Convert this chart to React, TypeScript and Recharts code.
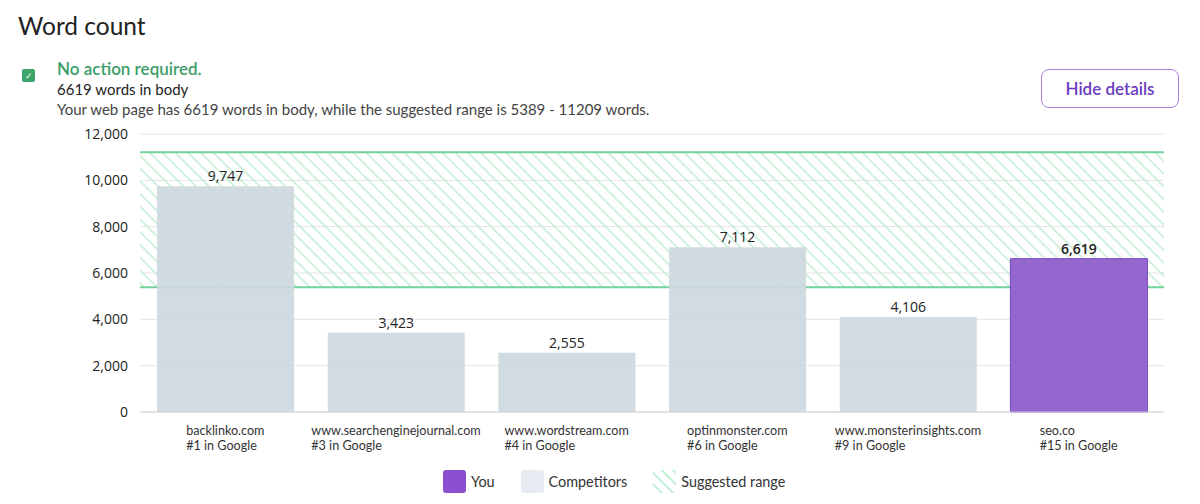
import React from 'react';
import {
  BarChart,
  Bar,
  XAxis,
  YAxis,
  CartesianGrid,
  Cell,
  LabelList,
  ReferenceArea,
  ReferenceLine,
} from 'recharts';

const sites = [
  'backlinko.com',
  'www.searchenginejournal.com',
  'www.wordstream.com',
  'optinmonster.com',
  'www.monsterinsights.com',
  'seo.co',
];
const ranks = ['#1 in Google', '#3 in Google', '#4 in Google', '#6 in Google', '#9 in Google', '#15 in Google'];
const wordCounts = [9747, 3423, 2555, 7112, 4106, 6619];
const isYou = [false, false, false, false, false, true];
const yTicks = [0, 2000, 4000, 6000, 8000, 10000, 12000];
const rangeLow = 5389;
const rangeHigh = 11209;

const data = sites.map((site, i) => ({
  site,
  rank: ranks[i],
  words: wordCounts[i],
  you: isYou[i],
}));

const FONT = 'Lato, "Open Sans", sans-serif';
const NUM_FONT = '"Open Sans", sans-serif';

let canvasCtx: CanvasRenderingContext2D | null = null;
const measure = (text: string, font: string) => {
  if (!canvasCtx) canvasCtx = document.createElement('canvas').getContext('2d');
  if (!canvasCtx) return text.length * 6.5;
  canvasCtx.font = font;
  return canvasCtx.measureText(text).width;
};

const SiteTick = (props: any) => {
  const { x, y, payload, index } = props;
  const site = payload.value as string;
  const rank = ranks[index] ?? '';
  const font = '12.6px ' + FONT;
  const w = Math.max(measure(site, font), measure(rank, font));
  const left = x - w / 2;
  return (
    <g>
      <text x={left} y={y + 15} fontSize={12.6} fontFamily={FONT} fill="#333" textAnchor="start">
        {site}
      </text>
      <text x={left} y={y + 30} fontSize={12.6} fontFamily={FONT} fill="#333" textAnchor="start">
        {rank}
      </text>
    </g>
  );
};

const ValueLabel = (props: any) => {
  const { x, y, width, value, index } = props;
  return (
    <text
      x={x + width / 2}
      y={y - 5}
      textAnchor="middle"
      fontSize={14}
      fontFamily={NUM_FONT}
      fontWeight={isYou[index] ? 600 : 400}
      fill="#222"
    >
      {Number(value).toLocaleString('en-US')}
    </text>
  );
};

const legendItems = [
  { label: 'You', kind: 'you' },
  { label: 'Competitors', kind: 'comp' },
  { label: 'Suggested range', kind: 'range' },
];

const Swatch = ({ kind }: { kind: string }) => {
  if (kind === 'range') {
    return (
      <svg width={23} height={23} style={{ display: 'block' }}>
        <defs>
          <pattern id="legendHatch" width={8} height={8} patternUnits="userSpaceOnUse" patternTransform="rotate(45)">
            <line x1={0} y1={2} x2={8} y2={2} stroke="#c2eed4" strokeWidth={2} />
          </pattern>
        </defs>
        <rect width={23} height={23} fill="url(#legendHatch)" />
      </svg>
    );
  }
  return (
    <div
      style={{
        width: 23,
        height: 23,
        borderRadius: 3,
        background: kind === 'you' ? '#8a4fcf' : '#e6ecf1',
      }}
    />
  );
};

export default function App(): React.JSX.Element {
  // zIndex props push the suggested range behind the bars (recharts 3 layers)
  const behind: any = { zIndex: -60 };
  return (
    <div
      style={{
        position: 'absolute',
        top: 0,
        left: 0,
        width: 1200,
        height: 504,
        background: '#fff',
        fontFamily: FONT,
        overflow: 'hidden',
      }}
    >
      <div style={{ position: 'absolute', left: 18, top: 11, fontSize: 24.5, color: '#222' }}>Word count</div>
      <div
        style={{
          position: 'absolute',
          left: 22,
          top: 69,
          width: 13,
          height: 13,
          background: '#3fa56c',
          borderRadius: 2,
          color: '#fff',
          fontSize: 9,
          lineHeight: '13px',
          textAlign: 'center',
        }}
      >
        ✓
      </div>
      <div style={{ position: 'absolute', left: 57, top: 58, fontSize: 17, fontWeight: 600, color: '#3c9d69' }}>
        No action required.
      </div>
      <div style={{ position: 'absolute', left: 57, top: 80, fontSize: 15, color: '#222' }}>6619 words in body</div>
      <div style={{ position: 'absolute', left: 57, top: 100, fontSize: 15, color: '#444' }}>
        Your web page has 6619 words in body, while the suggested range is 5389 - 11209 words.
      </div>
      <div
        style={{
          position: 'absolute',
          left: 1041,
          top: 69,
          width: 136,
          height: 37,
          border: '1px solid #a882de',
          borderRadius: 8,
          color: '#6a3bbf',
          fontSize: 17,
          fontWeight: 600,
          lineHeight: '37px',
          textAlign: 'center',
        }}
      >
        Hide details
      </div>

      <div style={{ position: 'absolute', left: 0, top: 0 }}>
        <BarChart
          width={1200}
          height={504}
          data={data}
          margin={{ top: 134, right: 36, bottom: 42, left: 0 }}
          barCategoryGap="10%"
        >
          <defs>
            <pattern id="rangeHatch" width={9} height={9} patternUnits="userSpaceOnUse" patternTransform="rotate(45)">
              <line x1={0} y1={2} x2={9} y2={2} stroke="#bdebd0" strokeWidth={1.4} />
            </pattern>
          </defs>
          <CartesianGrid vertical={false} stroke="#e4e4e4" />
          <XAxis
            dataKey="site"
            interval={0}
            height={50}
            tickLine={false}
            axisLine={{ stroke: '#d4d4d4' }}
            tick={<SiteTick />}
          />
          <YAxis
            width={140}
            domain={[0, 12000]}
            ticks={yTicks}
            tickLine={false}
            axisLine={false}
            tickMargin={6}
            tick={{ fontSize: 14, fill: '#222', fontFamily: NUM_FONT }}
            tickFormatter={(v: number) => v.toLocaleString('en-US')}
          />
          <ReferenceArea
            y1={rangeLow}
            y2={rangeHigh}
            fill="url(#rangeHatch)"
            fillOpacity={1}
            stroke="none"
            {...behind}
          />
          <ReferenceLine y={rangeHigh} stroke="#74d39c" strokeWidth={2} {...behind} />
          <ReferenceLine y={rangeLow} stroke="#74d39c" strokeWidth={2} {...behind} />
          <Bar dataKey="words" isAnimationActive={false}>
            {data.map((d, i) => (
              <Cell
                key={i}
                fill={d.you ? '#9467cf' : '#cdd8e0'}
                fillOpacity={d.you ? 1 : 0.93}
                stroke={d.you ? '#7b45c6' : 'none'}
                strokeWidth={1}
              />
            ))}
            <LabelList dataKey="words" content={<ValueLabel />} />
          </Bar>
        </BarChart>
      </div>

      <div
        style={{
          position: 'absolute',
          top: 470,
          left: 443,
          display: 'flex',
          alignItems: 'center',
        }}
      >
        {legendItems.map((it, i) => (
          <div
            key={it.label}
            style={{ display: 'flex', alignItems: 'center', marginLeft: i === 0 ? 0 : 26 }}
          >
            <Swatch kind={it.kind} />
            <span style={{ marginLeft: 5, fontSize: 14.4, color: '#333' }}>{it.label}</span>
          </div>
        ))}
      </div>
    </div>
  );
}
